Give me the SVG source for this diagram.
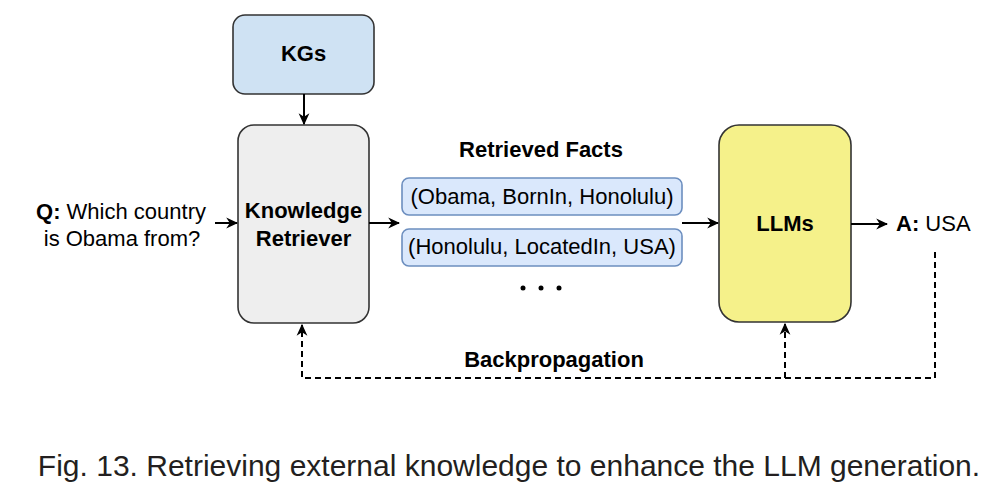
<svg xmlns="http://www.w3.org/2000/svg" width="999" height="503" viewBox="0 0 999 503">
<style>
text{font-family:"Liberation Sans",Arial,sans-serif;font-size:22px;fill:#000}
.b{font-weight:bold}
.c{text-anchor:middle}
.node{stroke:#333;stroke-width:1.6}
.fact{fill:#dae8fc;stroke:#6c8ebf;stroke-width:1.6}
.ln{fill:none;stroke:#000;stroke-width:2}
.dash{fill:none;stroke:#000;stroke-width:2;stroke-dasharray:6 4}
</style>
<defs>
<marker id="ah" viewBox="0 0 10 10" refX="9" refY="5" markerWidth="12" markerHeight="12" markerUnits="userSpaceOnUse" orient="auto">
<path d="M0,0.5 L10,5 L0,9.5 L3,5 Z" fill="#000"/>
</marker>
</defs>
<rect width="999" height="503" fill="#fff"/>
<g id="kgs">
<rect class="node" x="233" y="15" width="141" height="79" rx="12" fill="#cfe2f3"/>
<text class="b c" x="303.5" y="61">KGs</text>
</g>
<g id="retriever">
<rect class="node" x="238" y="125" width="131" height="198" rx="16" fill="#eeeeee"/>
<text class="b c" x="303.5" y="218">Knowledge</text>
<text class="b c" x="303.5" y="246">Retriever</text>
</g>
<g id="question">
<text class="c" x="121" y="219"><tspan class="b">Q:</tspan> Which country</text>
<text class="c" x="122" y="246">is Obama from?</text>
</g>
<g id="facts">
<text class="b c" x="541" y="157">Retrieved Facts</text>
<rect class="fact" x="402" y="178" width="280" height="37" rx="7"/>
<text class="c" x="542" y="204">(Obama, BornIn, Honolulu)</text>
<rect class="fact" x="402" y="229" width="280" height="37" rx="7"/>
<text class="c" x="542" y="254">(Honolulu, LocatedIn, USA)</text>
<circle cx="523" cy="288" r="2.5" fill="#000"/>
<circle cx="541" cy="288" r="2.5" fill="#000"/>
<circle cx="559" cy="288" r="2.5" fill="#000"/>
</g>
<g id="llms">
<rect class="node" x="719" y="125" width="132" height="197" rx="20" fill="#f5f18a"/>
<text class="b c" x="785" y="231">LLMs</text>
</g>
<g id="answer">
<text x="896" y="231"><tspan class="b">A:</tspan> USA</text>
</g>
<g id="connectors">
<line class="ln" x1="304" y1="94" x2="304" y2="124" marker-end="url(#ah)"/>
<line class="ln" x1="215" y1="223" x2="237" y2="223" marker-end="url(#ah)"/>
<line class="ln" x1="369" y1="223" x2="399" y2="223" marker-end="url(#ah)"/>
<line class="ln" x1="682" y1="223" x2="718" y2="223" marker-end="url(#ah)"/>
<line class="ln" x1="851" y1="224" x2="887" y2="224" marker-end="url(#ah)"/>
<path class="dash" d="M935,252 V378 H302 V325" marker-end="url(#ah)"/>
<path class="dash" d="M785,378 V324" marker-end="url(#ah)"/>
<text class="b c" x="554" y="367">Backpropagation</text>
</g>
<text x="509" y="476" class="c" style="font-size:30px;fill:#231f20">Fig. 13. Retrieving external knowledge to enhance the LLM generation.</text>
</svg>
